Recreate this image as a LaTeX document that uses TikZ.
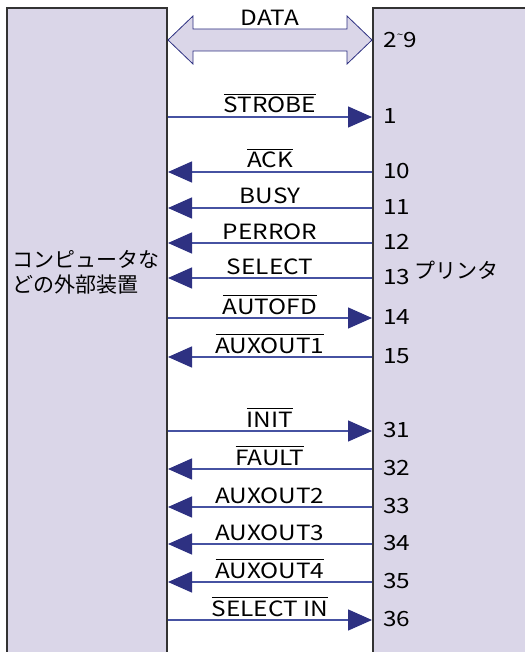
\documentclass[tikz,border=0pt]{standalone}
\usepackage{fontspec}
\setmainfont{Noto Sans CJK JP}[FakeStretch=1.16]
\newfontfamily\jpfont{Noto Sans CJK JP}
\usetikzlibrary{arrows.meta}
\definecolor{BoxLav}{HTML}{DAD6E8}
\definecolor{SigNavy}{HTML}{2E3182}
\definecolor{SigLine}{HTML}{4652A2}
\definecolor{EdgeGrey}{HTML}{333333}
\newcommand{\negsig}[1]{$\overline{\mbox{#1}}$}

\begin{document}
\begin{tikzpicture}[x=0.5pt,y=-0.5pt,every node/.style={font=\fontsize{10.5}{12.5}\selectfont,text=black,inner sep=0pt},
  edge/.style={draw=EdgeGrey,line width=1pt},
  sig/.style={draw=SigLine,line width=0.7pt,-{Triangle[length=12pt,width=10.5pt,color=SigNavy]}},
  siglab/.style={anchor=base},pinlab/.style={anchor=west}]
\useasboundingbox[fill=white] (0,0) rectangle (524,652);
% the two units
\fill[BoxLav] (7,8) rectangle (167,670);\draw[edge] (7,670)--(7,8)--(167,8)--(167,670);
\fill[BoxLav] (373,8) rectangle (540,670);\draw[edge] (373,670)--(373,8)--(540,8);
\node[anchor=west,align=left,font=\fontsize{10.5}{12.5}\jpfont] (host) at (12,272.5){コンピュータな\\どの外部装置};
\node[anchor=west,font=\fontsize{10.5}{12.5}\jpfont] (printer) at (414,270){プリンタ};
% data bus
\coordinate(DL)at(168,40);\coordinate(DR)at(372,40);
\draw[fill=BoxLav,draw=SigNavy,line width=0.4pt,line join=miter] (DL)--(193,16)--(193,29)--(347,29)--(347,16)--(DR)--(347,64)--(347,51)--(193,51)--(193,64)--cycle;
\node[siglab] (data) at (270,26){DATA};
\node[pinlab] (pin29) at (383,40){2\raisebox{.42em}{\tiny\textasciitilde}9};
% computer -> printer
\foreach \y/\lab/\pin in {117/{\negsig{STROBE}}/1,318/{\negsig{AUTOFD}}/14,431/{\negsig{INIT}}/31,620/{\negsig{SELECT IN}}/36}{
  \coordinate(L\pin)at(168,\y);\coordinate(R\pin)at(372,\y);
  \draw[sig](L\pin)--(R\pin);
  \node[siglab] (lab\pin) at (270,\y-4){\lab};\node[pinlab] (pin\pin) at (383,\y-1){\pin};}
% printer -> computer
\foreach \y/\lab/\pin in {172/{\negsig{ACK}}/10,208/BUSY/11,243/PERROR/12,278/SELECT/13,357/{\negsig{AUXOUT1}}/15,
  469/{\negsig{FAULT}}/32,507/AUXOUT2/33,544/AUXOUT3/34,582/{\negsig{AUXOUT4}}/35}{
  \coordinate(L\pin)at(168,\y);\coordinate(R\pin)at(372,\y);
  \draw[sig](R\pin)--(L\pin);
  \node[siglab] (lab\pin) at (270,\y-4){\lab};\node[pinlab] (pin\pin) at (383,\y-1){\pin};}
\end{tikzpicture}
\end{document}
